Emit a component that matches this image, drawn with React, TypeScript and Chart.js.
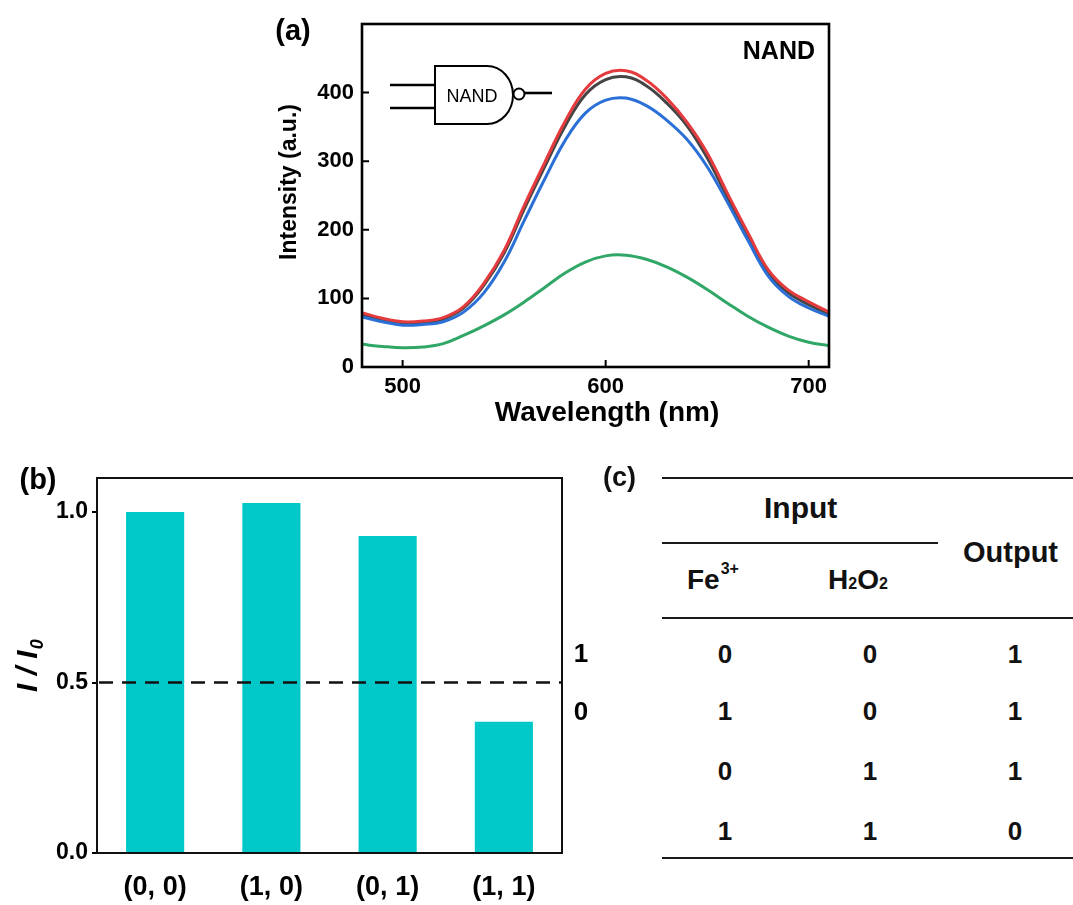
import React, { useEffect, useRef } from "react";
import { Chart, registerables } from "chart.js";

Chart.register(...registerables);

// ---------- Panel (a): emission spectra ----------
const wavelengths = [480, 490, 500, 510, 520, 530, 540, 550, 560, 570, 580, 590, 600, 610, 620, 630, 640, 650, 660, 670, 680, 690, 700, 710];
const intensityRed = [79, 71, 66, 67, 72, 88, 122, 170, 236, 298, 358, 405, 428, 432, 418, 392, 357, 312, 253, 196, 142, 112, 95, 80];
const intensityGray = [77, 69, 64, 65, 70, 86, 119, 166, 231, 292, 351, 397, 419, 423, 410, 385, 352, 305, 247, 190, 138, 108, 91, 77];
const intensityBlue = [73, 66, 61, 62, 66, 80, 108, 153, 214, 274, 330, 370, 389, 392, 381, 360, 332, 292, 240, 185, 133, 103, 86, 74];
const intensityGreen = [33, 30, 28, 29, 34, 46, 60, 76, 95, 116, 137, 153, 162, 163, 157, 146, 131, 113, 93, 74, 58, 45, 36, 31];
const spectrumXTicks = [500, 600, 700];
const spectrumYTicks = [0, 100, 200, 300, 400];

// ---------- Panel (b): bar chart ----------
const barCategories = ["(0, 0)", "(1, 0)", "(0, 1)", "(1, 1)"];
const barValues = [1.0, 1.027, 0.93, 0.385];
const barYTicks = [0, 0.5, 1.0];
const thresholdValue = 0.5;
const thresholdLabels = ["1", "0"];

// ---------- Panel (c): truth table ----------
const fe3Inputs = [0, 1, 0, 1];
const h2o2Inputs = [0, 0, 1, 1];
const gateOutputs = [1, 1, 1, 0];

const ARIAL = '"Liberation Sans", Arial, sans-serif';

const spectrumDecor = {
  id: "spectrumDecor",
  afterDatasetsDraw(chart: any) {
    const { ctx, chartArea: ca, scales } = chart;
    const x = scales.x;
    const y = scales.y;
    ctx.save();
    ctx.strokeStyle = "#000";
    ctx.lineWidth = 2.6;
    ctx.strokeRect(ca.left, ca.top, ca.right - ca.left, ca.bottom - ca.top);
    // inward tick marks
    ctx.lineWidth = 2;
    ctx.beginPath();
    spectrumYTicks.forEach((v) => {
      const py = y.getPixelForValue(v);
      ctx.moveTo(ca.left, py);
      ctx.lineTo(ca.left + 7, py);
    });
    spectrumXTicks.forEach((v) => {
      const px = x.getPixelForValue(v);
      ctx.moveTo(px, ca.bottom);
      ctx.lineTo(px, ca.bottom - 7);
    });
    ctx.stroke();

    // NAND gate symbol
    ctx.lineWidth = 2.4;
    ctx.beginPath();
    ctx.moveTo(140, 85);
    ctx.lineTo(185, 85);
    ctx.moveTo(140, 108);
    ctx.lineTo(185, 108);
    ctx.stroke();
    ctx.lineWidth = 2;
    ctx.beginPath();
    ctx.moveTo(237, 66);
    ctx.lineTo(185, 66);
    ctx.lineTo(185, 124);
    ctx.lineTo(237, 124);
    ctx.ellipse(237, 95, 26, 29, 0, Math.PI / 2, -Math.PI / 2, true);
    ctx.stroke();
    ctx.beginPath();
    ctx.arc(269, 94, 5.5, 0, Math.PI * 2);
    ctx.stroke();
    ctx.lineWidth = 2.6;
    ctx.beginPath();
    ctx.moveTo(275, 93);
    ctx.lineTo(302, 93);
    ctx.stroke();

    ctx.fillStyle = "#000";
    ctx.textAlign = "center";
    ctx.textBaseline = "middle";
    ctx.font = `18px ${ARIAL}`;
    ctx.fillText("NAND", 222, 97);

    ctx.font = `bold 25px ${ARIAL}`;
    ctx.textAlign = "right";
    ctx.fillText("NAND", ca.right - 14, 52);

    ctx.textAlign = "center";
    ctx.font = `bold 29px ${ARIAL}`;
    ctx.fillText("(a)", 43, 32);

    ctx.font = `bold 28px ${ARIAL}`;
    ctx.fillText("Wavelength (nm)", 357, 413);

    ctx.save();
    ctx.translate(40, 182);
    ctx.rotate(-Math.PI / 2);
    ctx.font = `bold 23px ${ARIAL}`;
    ctx.fillText("Intensity (a.u.)", 0, 0);
    ctx.restore();

    ctx.restore();
  },
};

const barDecor = {
  id: "barDecor",
  afterDatasetsDraw(chart: any) {
    const { ctx, chartArea: ca, scales } = chart;
    const y = scales.y;
    ctx.save();
    const py = y.getPixelForValue(thresholdValue);
    ctx.strokeStyle = "#111";
    ctx.lineWidth = 2.5;
    ctx.setLineDash([14, 9]);
    ctx.beginPath();
    ctx.moveTo(ca.left + 2, py);
    ctx.lineTo(ca.right, py);
    ctx.stroke();
    ctx.setLineDash([]);

    ctx.lineWidth = 2;
    ctx.strokeRect(ca.left, ca.top, ca.right - ca.left, ca.bottom - ca.top);

    ctx.fillStyle = "#000";
    ctx.textAlign = "center";
    ctx.textBaseline = "middle";
    ctx.font = `bold 26px ${ARIAL}`;
    ctx.fillText(thresholdLabels[0], ca.right + 19, py - 28);
    ctx.fillText(thresholdLabels[1], ca.right + 19, py + 30);

    ctx.font = `bold 29px ${ARIAL}`;
    ctx.fillText("(b)", 38, 31);

    ctx.save();
    ctx.translate(37, 242);
    ctx.rotate(-Math.PI / 2);
    ctx.textAlign = "left";
    ctx.textBaseline = "alphabetic";
    ctx.font = `italic bold 30px ${ARIAL}`;
    ctx.fillText("I / I", 0, 0);
    const w = ctx.measureText("I / I").width;
    ctx.font = `italic bold 18px ${ARIAL}`;
    ctx.fillText("0", w + 1, 6);
    ctx.restore();

    ctx.restore();
  },
};

function SpectrumChart() {
  const ref = useRef<HTMLCanvasElement>(null);
  useEffect(() => {
    const series = [
      { label: "blue", color: "#2b70d6", values: intensityBlue },
      { label: "red", color: "#e53b3e", values: intensityRed },
      { label: "gray", color: "#454545", values: intensityGray },
      { label: "green", color: "#30a766", values: intensityGreen },
    ];
    const chart = new Chart(ref.current as HTMLCanvasElement, {
      type: "line",
      data: {
        datasets: series.map((s) => ({
          label: s.label,
          data: wavelengths.map((w, i) => ({ x: w, y: s.values[i] })),
          borderColor: s.color,
          borderWidth: 3,
          pointRadius: 0,
          fill: false,
          tension: 0.4,
        })),
      },
      options: {
        responsive: false,
        animation: false,
        devicePixelRatio: 1,
        layout: { padding: { left: 0, top: 24, right: 31, bottom: 0 } },
        plugins: { legend: { display: false }, tooltip: { enabled: false } },
        scales: {
          x: {
            type: "linear",
            min: 480,
            max: 710,
            afterBuildTicks: (s: any) => {
              s.ticks = spectrumXTicks.map((v) => ({ value: v }));
            },
            afterFit: (s: any) => {
              s.height = 73;
            },
            grid: { display: false, drawTicks: false },
            border: { display: false },
            ticks: {
              color: "#000",
              padding: 7,
              maxRotation: 0,
              autoSkip: false,
              font: { family: ARIAL, weight: "bold", size: 22 },
            },
          },
          y: {
            type: "linear",
            min: 0,
            max: 500,
            afterBuildTicks: (s: any) => {
              s.ticks = spectrumYTicks.map((v) => ({ value: v }));
            },
            afterFit: (s: any) => {
              s.width = 112;
            },
            grid: { display: false, drawTicks: false },
            border: { display: false },
            ticks: {
              color: "#000",
              padding: 8,
              font: { family: ARIAL, weight: "bold", size: 22 },
            },
          },
        },
      } as any,
      plugins: [spectrumDecor],
    });
    return () => chart.destroy();
  }, []);
  return (
    <canvas
      ref={ref}
      width={610}
      height={440}
      style={{ position: "absolute", left: 250, top: 0, width: 610, height: 440 }}
    />
  );
}

function BarChart() {
  const ref = useRef<HTMLCanvasElement>(null);
  useEffect(() => {
    const chart = new Chart(ref.current as HTMLCanvasElement, {
      type: "bar",
      data: {
        labels: barCategories,
        datasets: [
          {
            label: "I/I0",
            data: barValues,
            backgroundColor: "#00c8c8",
            borderWidth: 0,
            barPercentage: 0.5,
            categoryPercentage: 1,
          },
        ],
      },
      options: {
        responsive: false,
        animation: false,
        devicePixelRatio: 1,
        layout: { padding: { left: 0, top: 28, right: 58, bottom: 0 } },
        plugins: { legend: { display: false }, tooltip: { enabled: false } },
        scales: {
          x: {
            grid: { display: false, drawTicks: false },
            border: { display: false },
            afterFit: (s: any) => {
              s.height = 52;
            },
            ticks: {
              color: "#000",
              padding: 18,
              maxRotation: 0,
              autoSkip: false,
              font: { family: ARIAL, weight: "bold", size: 27 },
            },
          },
          y: {
            min: 0,
            max: 1.1,
            afterBuildTicks: (s: any) => {
              s.ticks = barYTicks.map((v) => ({ value: v }));
            },
            afterFit: (s: any) => {
              s.width = 97;
            },
            grid: { display: true, drawOnChartArea: false, drawTicks: true, tickLength: 5, color: "#000", lineWidth: 2 },
            border: { display: false },
            ticks: {
              color: "#000",
              padding: 4,
              callback: (v: any) => Number(v).toFixed(1),
              font: { family: ARIAL, weight: "bold", size: 23 },
            },
          },
        },
      } as any,
      plugins: [barDecor],
    });
    return () => chart.destroy();
  }, []);
  return (
    <canvas
      ref={ref}
      width={620}
      height={455}
      style={{ position: "absolute", left: 0, top: 450, width: 620, height: 455 }}
    />
  );
}

const lineStyle = (left: number, top: number, width: number): React.CSSProperties => ({
  position: "absolute",
  left,
  top,
  width,
  height: 2,
  background: "#1a1a1a",
});

function TruthTable() {
  const colX = [725, 870, 1015];
  const rowBaseline = [663, 720, 780, 840];
  const cell = (text: string | number, cx: number, baseline: number, key: string) => (
    <div
      key={key}
      style={{
        position: "absolute",
        left: cx - 30,
        width: 60,
        top: baseline - 0.8465 * 26,
        fontSize: 26,
        lineHeight: 1,
        textAlign: "center",
      }}
    >
      {text}
    </div>
  );
  const rows = fe3Inputs.map((fe, i) => [fe, h2o2Inputs[i], gateOutputs[i]]);
  return (
    <div style={{ position: "absolute", left: 0, top: 0, fontFamily: ARIAL, fontWeight: "bold", color: "#111" }}>
      <div style={{ position: "absolute", left: 603, top: 487 - 0.8465 * 27, fontSize: 27, lineHeight: 1 }}>(c)</div>
      <div style={lineStyle(662, 477, 411)} />
      <div style={lineStyle(662, 542, 276)} />
      <div style={lineStyle(662, 617, 411)} />
      <div style={lineStyle(662, 857, 411)} />
      <div style={{ position: "absolute", left: 764, top: 518 - 0.8465 * 30, fontSize: 30, lineHeight: 1 }}>Input</div>
      <div style={{ position: "absolute", left: 963, top: 563 - 0.8465 * 29, fontSize: 29, lineHeight: 1 }}>Output</div>
      <div style={{ position: "absolute", left: 687, top: 590 - 0.8465 * 28, fontSize: 28, lineHeight: 1, whiteSpace: "nowrap" }}>
        Fe<span style={{ fontSize: 16, position: "relative", top: -15, marginLeft: 1 }}>3+</span>
      </div>
      <div style={{ position: "absolute", left: 828, top: 590 - 0.8465 * 28, fontSize: 28, lineHeight: 1, whiteSpace: "nowrap" }}>
        H<span style={{ fontSize: 16 }}>2</span>O<span style={{ fontSize: 16 }}>2</span>
      </div>
      {rows.map((r, i) => r.map((v, j) => cell(v, colX[j], rowBaseline[i], `${i}-${j}`)))}
    </div>
  );
}

export default function App() {
  return (
    <div
      style={{
        position: "absolute",
        left: 0,
        top: 0,
        width: 1073,
        height: 905,
        background: "#fff",
        overflow: "hidden",
      }}
    >
      <SpectrumChart />
      <BarChart />
      <TruthTable />
    </div>
  );
}
